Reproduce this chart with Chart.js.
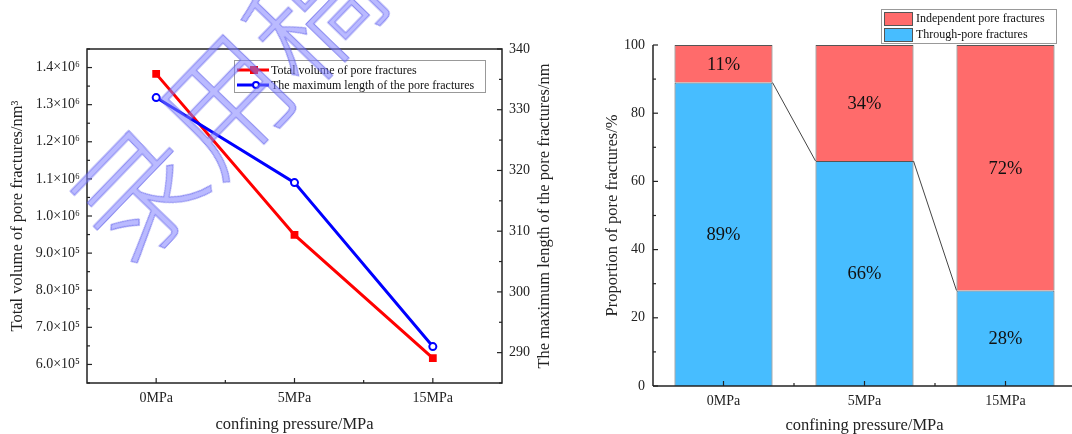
<!DOCTYPE html>
<html>
<head>
<meta charset="utf-8">
<script src="https://cdn.jsdelivr.net/npm/chart.js@4/dist/chart.umd.min.js"></script>
<style>
  html, body { margin: 0; padding: 0; background: #fff; width: 1072px; height: 434px; overflow: hidden; position: relative; }
  #leftBox { position: absolute; left: 0; top: 0; width: 560px; height: 434px; }
  #rightBox { position: absolute; left: 560px; top: 0; width: 520px; height: 434px; }
  .watermark {
    position: absolute; left: 220px; top: 98px;
    transform: translate(-50%, -50%) rotate(-46deg);
    font-family: "Noto Sans CJK SC", sans-serif; font-size: 126px; line-height: 1; font-weight: 300;
    color: rgba(130, 130, 255, 0.55); -webkit-text-stroke: 1px rgba(80, 80, 230, 0.6);
    white-space: nowrap; pointer-events: none;
  }
</style>
</head>
<body>
<div id="leftBox"><canvas id="lineChart" width="560" height="434"></canvas></div>
<div id="rightBox"><canvas id="barChart" width="520" height="434"></canvas></div>
<div class="watermark">录用稿</div>
<script>
// data
const categories = ['0MPa', '5MPa', '15MPa'];
const totalVolume = [1383000, 949000, 617000];
const maxLength = [332, 318, 291];
const volumeTicks = [600000, 700000, 800000, 900000, 1000000, 1100000, 1200000, 1300000, 1400000];
const lengthTicks = [290, 300, 310, 320, 330, 340];
const throughPore = [89, 66, 28];
const independentPore = [11, 34, 72];
const proportionTicks = [0, 20, 40, 60, 80, 100];

const SERIF = '"Liberation Serif", "Times New Roman", serif';
const AXIS = '#222';

Chart.defaults.font.family = SERIF;
Chart.defaults.color = AXIS;

const sup = { '0': '⁰', '1': '¹', '2': '²', '3': '³', '4': '⁴', '5': '⁵', '6': '⁶', '7': '⁷', '8': '⁸', '9': '⁹' };
function sciLabel(v) {
  const e = Math.floor(Math.log10(v));
  const m = v / Math.pow(10, e);
  return m.toFixed(1) + '×10' + String(e).split('').map(c => sup[c]).join('');
}

function line(ctx, x1, y1, x2, y2) {
  ctx.beginPath(); ctx.moveTo(x1, y1); ctx.lineTo(x2, y2); ctx.stroke();
}

// inward ticks for a vertical scale: major on the tick values, minor half way between
function vTicks(ctx, scale, x, dir, ticks) {
  const half = (ticks[1] - ticks[0]) / 2;
  ticks.forEach(v => {
    const y = scale.getPixelForValue(v);
    line(ctx, x, y, x + dir * 5, y);
  });
  for (let v = ticks[0] - half; v <= scale.max + 1e-9; v += 2 * half) {
    if (v < scale.min - 1e-9) continue;
    const y = scale.getPixelForValue(v);
    line(ctx, x, y, x + dir * 3, y);
  }
}

function xTicks(ctx, scale, y, n) {
  for (let i = 0; i < n; i++) {
    const x = scale.getPixelForValue(i);
    line(ctx, x, y, x, y - 5);
    if (i < n - 1) {
      const xm = scale.getPixelForValue(i + 0.5);
      line(ctx, xm, y, xm, y - 3);
    }
  }
}

// ---------- left chart ----------
const leftDecor = {
  id: 'leftDecor',
  afterDraw(chart) {
    const { ctx, chartArea: a, scales } = chart;
    ctx.save();
    ctx.strokeStyle = AXIS;
    ctx.lineWidth = 1.5;
    ctx.strokeRect(a.left, a.top, a.right - a.left, a.bottom - a.top);
    ctx.lineWidth = 1.2;
    vTicks(ctx, scales.yL, a.left, 1, volumeTicks);
    vTicks(ctx, scales.yR, a.right, -1, lengthTicks);
    xTicks(ctx, scales.x, a.bottom, categories.length);

    // right axis title, reading bottom to top
    ctx.fillStyle = AXIS;
    ctx.font = '16.5px ' + SERIF;
    ctx.textAlign = 'center';
    ctx.textBaseline = 'middle';
    ctx.translate(545, (a.top + a.bottom) / 2);
    ctx.rotate(-Math.PI / 2);
    ctx.fillText('The maximum length of the pore fractures/nm', 0, 0);
    ctx.restore();

    // legend inside plot
    ctx.save();
    ctx.fillStyle = '#fff';
    ctx.fillRect(234, 60, 251, 32);
    ctx.strokeStyle = '#999';
    ctx.lineWidth = 1;
    ctx.strokeRect(234.5, 60.5, 251, 32);
    const rows = [
      { y: 70, color: '#ff0000', text: 'Total volume of pore fractures', rect: true },
      { y: 85, color: '#0000ff', text: 'The maximum length of the pore fractures', rect: false }
    ];
    ctx.font = '12px ' + SERIF;
    ctx.textBaseline = 'middle';
    ctx.textAlign = 'left';
    rows.forEach(r => {
      ctx.strokeStyle = r.color;
      ctx.lineWidth = 3;
      line(ctx, 237, r.y, 269, r.y);
      if (r.rect) {
        ctx.fillStyle = r.color;
        ctx.fillRect(250, r.y - 4, 8, 8);
      } else {
        ctx.fillStyle = '#fff';
        ctx.lineWidth = 2;
        ctx.beginPath(); ctx.arc(256, r.y, 3, 0, Math.PI * 2); ctx.fill(); ctx.stroke();
      }
      ctx.fillStyle = '#111';
      ctx.fillText(r.text, 271, r.y + 1);
    });
    ctx.restore();
  }
};

new Chart(document.getElementById('lineChart').getContext('2d'), {
  type: 'line',
  data: {
    labels: categories,
    datasets: [
      {
        label: 'Total volume of pore fractures',
        data: totalVolume,
        yAxisID: 'yL',
        borderColor: '#ff0000',
        backgroundColor: '#ff0000',
        borderWidth: 3,
        pointStyle: 'rect',
        pointRadius: 5.5,
        pointBorderWidth: 0,
        order: 1
      },
      {
        label: 'The maximum length of the pore fractures',
        data: maxLength,
        yAxisID: 'yR',
        borderColor: '#0000ff',
        backgroundColor: '#ffffff',
        borderWidth: 3,
        pointStyle: 'circle',
        pointRadius: 3.5,
        pointBorderWidth: 2,
        order: 0
      }
    ]
  },
  options: {
    responsive: false,
    animation: false,
    layout: { padding: { top: 49, left: 0, right: 0, bottom: 0 } },
    plugins: { legend: { display: false }, tooltip: { enabled: false } },
    scales: {
      x: {
        offset: true,
        grid: { display: false, drawTicks: false },
        border: { display: false },
        ticks: { padding: 7, font: { size: 14 } },
        title: { display: true, text: 'confining pressure/MPa', font: { size: 16.5 }, padding: { top: 0, bottom: -1 } },
        afterFit(s) { s.height = 51; }
      },
      yL: {
        position: 'left',
        min: 550000,
        max: 1450000,
        afterBuildTicks(s) { s.ticks = volumeTicks.map(v => ({ value: v })); },
        grid: { display: false, drawTicks: false },
        border: { display: false },
        ticks: { padding: 7, font: { size: 14 }, callback: v => sciLabel(v) },
        title: { display: true, text: 'Total volume of pore fractures/nm³', font: { size: 16.5 }, padding: { top: 8 } },
        afterFit(s) { s.width = 87; }
      },
      yR: {
        position: 'right',
        min: 285,
        max: 340,
        afterBuildTicks(s) { s.ticks = lengthTicks.map(v => ({ value: v })); },
        grid: { display: false, drawTicks: false },
        border: { display: false },
        ticks: { padding: 7, font: { size: 14 } },
        afterFit(s) { s.width = 58; }
      }
    }
  },
  plugins: [leftDecor]
});

// ---------- right chart ----------
const rightDecor = {
  id: 'rightDecor',
  afterDatasetsDraw(chart) {
    const { ctx, chartArea: a, scales } = chart;
    ctx.save();
    // connector lines between the tops of the through-pore bars
    const bars = chart.getDatasetMeta(0).data;
    ctx.strokeStyle = '#444';
    ctx.lineWidth = 1;
    for (let i = 0; i < bars.length - 1; i++) {
      const p = bars[i], q = bars[i + 1];
      line(ctx, p.x + p.width / 2, p.y, q.x - q.width / 2, q.y);
    }
    // segment labels
    ctx.fillStyle = '#111';
    ctx.font = '18.5px ' + SERIF;
    ctx.textAlign = 'center';
    ctx.textBaseline = 'middle';
    chart.data.datasets.forEach((ds, di) => {
      chart.getDatasetMeta(di).data.forEach((el, j) => {
        ctx.fillText(ds.data[j] + '%', el.x, (el.y + el.base) / 2 + 1);
      });
    });

    // axes
    ctx.strokeStyle = AXIS;
    ctx.lineWidth = 1.5;
    line(ctx, a.left, a.top, a.left, a.bottom);
    line(ctx, a.left, a.bottom, a.right, a.bottom);
    ctx.lineWidth = 1.2;
    vTicks(ctx, scales.y, a.left, 1, proportionTicks);
    xTicks(ctx, scales.x, a.bottom, categories.length);

    // legend
    ctx.fillStyle = '#fff';
    ctx.fillRect(321, 9, 175, 34);
    ctx.strokeStyle = '#999';
    ctx.lineWidth = 1;
    ctx.strokeRect(321.5, 9.5, 175, 34);
    const items = [
      { y: 12, color: chart.data.datasets[1].backgroundColor, text: chart.data.datasets[1].label },
      { y: 28, color: chart.data.datasets[0].backgroundColor, text: chart.data.datasets[0].label }
    ];
    ctx.font = '12px ' + SERIF;
    ctx.textAlign = 'left';
    items.forEach(it => {
      ctx.fillStyle = it.color;
      ctx.fillRect(324, it.y, 28, 13);
      ctx.strokeStyle = '#555';
      ctx.strokeRect(324.5, it.y + 0.5, 28, 13);
      ctx.fillStyle = '#111';
      ctx.fillText(it.text, 356, it.y + 7);
    });
    ctx.restore();
  }
};

new Chart(document.getElementById('barChart').getContext('2d'), {
  type: 'bar',
  data: {
    labels: categories,
    datasets: [
      {
        label: 'Through-pore fractures',
        data: throughPore,
        backgroundColor: '#47BDFF',
        borderColor: '#555',
        borderWidth: 1,
        barPercentage: 0.695,
        categoryPercentage: 1
      },
      {
        label: 'Independent pore fractures',
        data: independentPore,
        backgroundColor: '#FF6B6B',
        borderColor: '#555',
        borderWidth: 1,
        barPercentage: 0.695,
        categoryPercentage: 1
      }
    ]
  },
  options: {
    responsive: false,
    animation: false,
    layout: { padding: { top: 45, left: 0, right: 4, bottom: 0 } },
    plugins: { legend: { display: false }, tooltip: { enabled: false } },
    scales: {
      x: {
        stacked: true,
        grid: { display: false, drawTicks: false },
        border: { display: false },
        ticks: { padding: 7, font: { size: 14 } },
        title: { display: true, text: 'confining pressure/MPa', font: { size: 16.5 }, padding: { top: 0, bottom: -2 } },
        afterFit(s) { s.height = 48; }
      },
      y: {
        stacked: true,
        min: 0,
        max: 100,
        afterBuildTicks(s) { s.ticks = proportionTicks.map(v => ({ value: v })); },
        grid: { display: false, drawTicks: false },
        border: { display: false },
        ticks: { padding: 8, font: { size: 14 } },
        title: { display: true, text: 'Proportion of pore fractures/%', font: { size: 16.5 }, padding: { top: 43 } },
        afterFit(s) { s.width = 93; }
      }
    }
  },
  plugins: [rightDecor]
});
</script>
</body>
</html>
